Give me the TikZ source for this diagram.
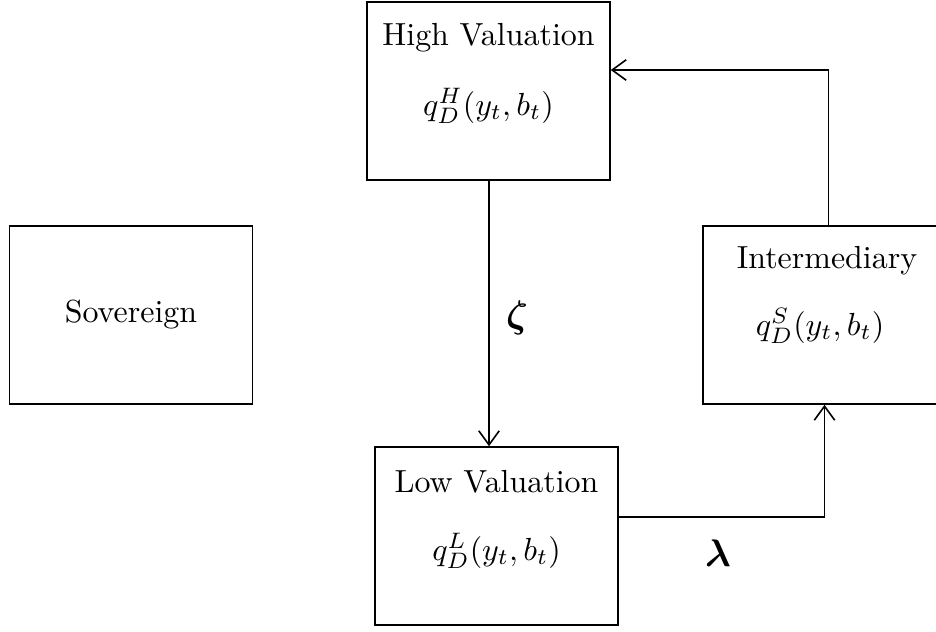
\documentclass[tikz,border=0pt]{standalone}
\usepackage{bm}
\usetikzlibrary{calc,arrows.meta}
\tikzset{
  agentbox/.style={draw,line width=0.5pt,minimum width=2.673cm,minimum height=1.958cm,inner sep=0pt},
  flow/.style={-{Straight Barb[length=4.4pt,width=6.4pt,line width=0.5pt]},line width=0.5pt}
}

\begin{document}
\begin{tikzpicture}[x=0.011cm,y=-0.011cm]
\useasboundingbox (0,0) rectangle (936,631);
\node[agentbox] (hv) at (488.5,91) {};
\node (hvtitle) at (488.5,38) {High Valuation};
\node (hvprice) at (488.5,106) {$q_D^H(y_t,b_t)$};
\node[agentbox] (sov) at (131,315) {Sovereign};
\node[agentbox] (int) at (824.5,315) {};
\node (inttitle) at (827,261) {Intermediary};
\node (intprice) at (820,326) {$q_D^S(y_t,b_t)$};
\node[agentbox] (lv) at (496.5,536) {};
\node (lvtitle) at (496.5,482) {Low Valuation};
\node (lvprice) at (496.5,551) {$q_D^L(y_t,b_t)$};
\draw[flow] (hv.south -| 489,0) -- (lv.north -| 489,0);
\node (zeta) at (517,318) {\large$\bm{\zeta}$};
\draw[flow] ($(lv.east)+(0,-19)$) -| (int.south);
\node (lambda) at (718,553) {\large$\bm{\lambda}$};
\draw[flow] ($(int.north)+(4,0)$) |- ($(hv.east)+(0,-21)$);
\end{tikzpicture}
\end{document}
